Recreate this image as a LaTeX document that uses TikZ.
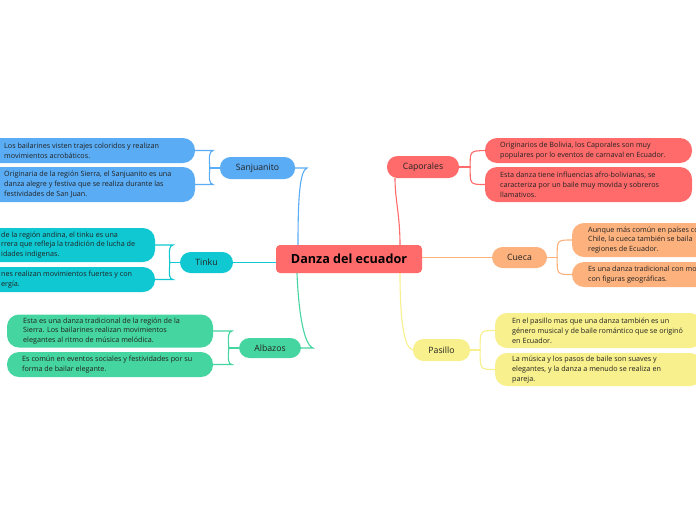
\documentclass[tikz,border=0pt]{standalone}
\usepackage{fontspec}
\setmainfont{Open Sans}
\usetikzlibrary{calc}
\definecolor{cred}{HTML}{FF6B6B}
\definecolor{corange}{HTML}{FDB27E}
\definecolor{cyellow}{HTML}{F8F08C}
\definecolor{cblue}{HTML}{5AACF4}
\definecolor{cteal}{HTML}{0FC8D2}
\definecolor{cgreen}{HTML}{45D5A0}
\definecolor{txt}{HTML}{222222}
\pgfdeclarelayer{background}
\pgfsetlayers{background,main}
\begin{document}
\begin{tikzpicture}[x=1pt,y=-1pt,
  cbox/.style={draw=none, rounded corners=12pt, inner sep=0pt},
  ctext/.style={anchor=west, align=left, inner sep=0pt, text=txt, font=\fontsize{7.2}{9.8}\selectfont},
  branch/.style={draw=none, rounded corners=10.5pt, inner sep=0pt, text=txt, font=\fontsize{8.7}{10}\selectfont},
  conn/.style={line width=1.1pt, line cap=round}]
\useasboundingbox (0,0) rectangle (696,520);
\clip (0,0) rectangle (696,520);

% central
\node[fill=cred, rounded corners=4pt, minimum width=146pt, minimum height=28pt, inner sep=0pt, font=\fontsize{12.6}{14}\selectfont\bfseries, text=black] (ctr) at (349,259) {Danza del ecuador};

% branches
\node[branch, fill=cred, minimum width=72pt, minimum height=22pt] (cap) at (423,167) {Caporales};
\node[branch, fill=corange, minimum width=55pt, minimum height=21pt] (cue) at (519.5,257.5) {Cueca};
\node[branch, fill=cyellow, minimum width=57pt, minimum height=22pt] (pas) at (441.5,350) {Pasillo};
\node[branch, fill=cblue, minimum width=75pt, minimum height=22pt] (san) at (257.5,168) {Sanjuanito};
\node[branch, fill=cteal, minimum width=53pt, minimum height=21pt] (tin) at (206.5,262.5) {Tinku};
\node[branch, fill=cgreen, minimum width=62pt, minimum height=20pt] (alb) at (270,348) {Albazos};

% Caporales children
\node[cbox, fill=cred, minimum width=207pt, minimum height=25pt] (cap1) at (588.5,150.5) {};
\node[ctext] (cap1t) at (500,150.5) {Originarios de Bolivia, los Caporales son muy\\populares por lo eventos de carnaval en Ecuador.};
\node[cbox, fill=cred, minimum width=207pt, minimum height=35pt] (cap2) at (588.5,184.5) {};
\node[ctext] (cap2t) at (500,184.5) {Esta danza tiene influencias afro-bolivianas, se\\caracteriza por un baile muy movida y sobreros\\llamativos.};

% Cueca children
\node[cbox, fill=corange, minimum width=158pt, minimum height=34pt] (cue1) at (651,240) {};
\node[ctext] (cue1t) at (588,240) {Aunque más común en países co\\Chile, la cueca también se baila\\regiones de Ecuador.};
\node[cbox, fill=corange, minimum width=158pt, minimum height=25pt] (cue2) at (651,274.5) {};
\node[ctext] (cue2t) at (588,274.5) {Es una danza tradicional con mo\\con figuras geográficas.};

% Pasillo children
\node[cbox, fill=cyellow, minimum width=207pt, minimum height=35pt] (pas1) at (598.5,330.5) {};
\node[ctext] (pas1t) at (512,330.5) {En el pasillo mas que una danza también es un\\género musical y de baile romántico que se originó\\en Ecuador.};
\node[cbox, fill=cyellow, minimum width=207pt, minimum height=33pt] (pas2) at (598.5,369.5) {};
\node[ctext] (pas2t) at (512,369.5) {La música y los pasos de baile son suaves y\\elegantes, y la danza a menudo se realiza en\\pareja.};

% Sanjuanito children
\node[cbox, fill=cblue, minimum width=215pt, minimum height=25pt] (sj1) at (87.5,150.5) {};
\node[ctext] (sj1t) at (4,150.5) {Los bailarines visten trajes coloridos y realizan\\movimientos acrobáticos.};
\node[cbox, fill=cblue, minimum width=215pt, minimum height=35pt] (sj2) at (87.5,184.5) {};
\node[ctext] (sj2t) at (4,184.5) {Originaria de la región Sierra, el Sanjuanito es una\\danza alegre y festiva que se realiza durante las\\festividades de San Juan.};

% Tinku children
\node[cbox, fill=cteal, minimum width=185pt, minimum height=34pt] (tc1) at (62.5,245) {};
\node[ctext] (tc1t) at (1,245) {de la región andina, el tinku es una\\rrera que refleja la tradición de lucha de\\idades indigenas.};
\node[cbox, fill=cteal, minimum width=185pt, minimum height=25pt] (tc2) at (62.5,279.5) {};
\node[ctext] (tc2t) at (1,279.5) {nes realizan movimientos fuertes y con\\ergía.};

% Albazos children
\node[cbox, fill=cgreen, minimum width=206pt, minimum height=33pt] (ac1) at (110,331) {};
\node[ctext] (ac1t) at (23,331) {Esta es una danza tradicional de la región de la\\Sierra. Los bailarines realizan movimientos\\elegantes al ritmo de música melódica.};
\node[cbox, fill=cgreen, minimum width=206pt, minimum height=25pt] (ac2) at (110,364.5) {};
\node[ctext] (ac2t) at (22,364.5) {Es común en eventos sociales y festividades por su\\forma de bailar elegante.};

\begin{pgfonlayer}{background}
\fill[white] (0,0) rectangle (696,520);
% central to branches
\draw[conn, cblue] (san.east) -- (307,168) .. controls (300,171) and (298,195) .. ([xshift=-51pt]ctr.north);
\draw[conn, cteal] (tin.east) -- (tin.east -| ctr.west);
\draw[conn, cgreen] (alb.east) -- (313,348) .. controls (302,344) and (298,300) .. ([xshift=-52pt]ctr.south);
\draw[conn, cred] ([xshift=51pt]ctr.north) .. controls (400,215) and (395,200) .. ([xshift=-28pt]cap.south);
\draw[conn, corange] (ctr.east |- cue.west) -- (cue.west);
\draw[conn, cyellow] ([xshift=51pt]ctr.south) .. controls (400,320) and (404,348) .. (pas.west);

% right brackets
\draw[conn, cred] (cap.east) -- ++(11,0) coordinate (capb);
\draw[conn, cred] (capb) .. controls (470,151) .. (cap1.west);
\draw[conn, cred] (capb) .. controls (470,184.5) .. (cap2.west);
\draw[conn, corange] (cue.east) -- ++(10,0) coordinate (cueb);
\draw[conn, corange] (cueb) .. controls (557,240) .. (cue1.west);
\draw[conn, corange] (cueb) .. controls (557,274.5) .. (cue2.west);
\draw[conn, cyellow] (pas.east) -- ++(10,0) coordinate (pasb);
\draw[conn, cyellow] (pasb) .. controls (480,330.5) .. (pas1.west);
\draw[conn, cyellow] (pasb) .. controls (480,369.5) .. (pas2.west);

% left brackets
\draw[conn, cblue] (san.west) -- ++(-10,0) coordinate (sjb);
\draw[conn, cblue] (sjb) .. controls (209,156) and (209,152) .. (213,150.5) -- (sj1.east);
\draw[conn, cblue] (sjb) .. controls (209,180) and (209,183) .. (213,184.5) -- (sj2.east);
\draw[conn, cteal] (tin.west) -- ++(-10,0) coordinate (tb);
\draw[conn, cteal] (tb) .. controls (169,250) and (169,246) .. (173,245) -- (tc1.east);
\draw[conn, cteal] (tb) .. controls (169,275) and (169,279) .. (173,279.5) -- (tc2.east);
\draw[conn, cgreen] (alb.west) -- ++(-10,0) coordinate (ab);
\draw[conn, cgreen] (ab) .. controls (228,336) and (228,332) .. (232,331) -- (ac1.east);
\draw[conn, cgreen] (ab) .. controls (228,360) and (228,364) .. (232,364.5) -- (ac2.east);
\end{pgfonlayer}
\end{tikzpicture}
\end{document}
